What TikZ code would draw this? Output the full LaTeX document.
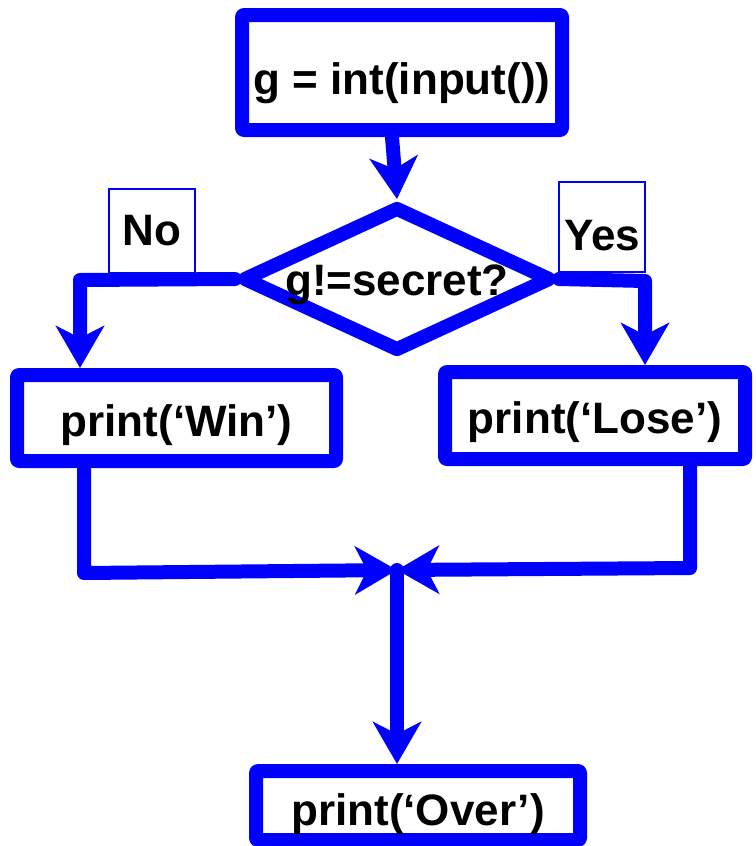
\documentclass[tikz,border=0pt]{standalone}
\usepackage{fontspec}
\setmainfont{Liberation Sans}
\usetikzlibrary{arrows.meta,shapes.geometric}
\begin{document}
\begin{tikzpicture}[x=1pt,y=-1pt,
  every node/.style={font=\fontsize{44}{48}\selectfont\bfseries, text=black},
  low/.style={text height=#1, text depth=0pt},
  box/.style={draw=blue, line width=14pt, line join=round, rounded corners=2pt, inner sep=0pt},
  dia/.style={draw=blue, line width=14pt, line join=round, shape=diamond, inner sep=0pt, low=32pt},
  lbl/.style={draw=blue, line width=1.5pt, inner sep=0pt},
  arr/.style={draw=blue, line width=14pt, line join=round, line cap=round,
    -{Stealth[length=42pt, width=48pt, inset=12pt]}}]
\useasboundingbox (0,0) rectangle (755,846);
\node[box, low=44pt, minimum width=320pt, minimum height=115pt] (top) at (402,72.5) {g = int(input())};
\node[dia, minimum width=310pt, minimum height=146pt] (d) at (397,279) {\makebox[0pt]{g!=secret?}};
\node[box, low=36pt, minimum width=319pt, minimum height=86pt] (win) at (176.5,418) {print(‘Win’)};
\node[box, low=36pt, minimum width=300pt, minimum height=87pt] (lose) at (595,415.5) {print(‘Lose’)};
\node[box, low=40pt, minimum width=324pt, minimum height=69pt] (over) at (418,805.5) {print(‘Over’)};
\node[lbl, minimum width=86pt, minimum height=84pt] (no) at (152,231) {No};
\node[lbl, low=46pt, minimum width=86pt, minimum height=90pt] (yes) at (602,227) {Yes};
\coordinate (nl) at (80,280);
\coordinate (nr) at (645,281);
\coordinate (wb) at (84,573);
\coordinate (lb) at (690,568);
\coordinate (m) at (397,570);
\draw[arr] ([xshift=-10pt]top.south) -- (d.north);
\draw[arr] (d.west) -- (nl) -- (nl |- win.north);
\draw[arr] (d.east) -- (nr) -- (nr |- lose.north);
\draw[arr] (wb |- win.south) -- (wb) -- (m);
\draw[arr] (lb |- lose.south) -- (lb) -- (m);
\draw[arr] (m) -- (m |- over.north);
\end{tikzpicture}
\end{document}
